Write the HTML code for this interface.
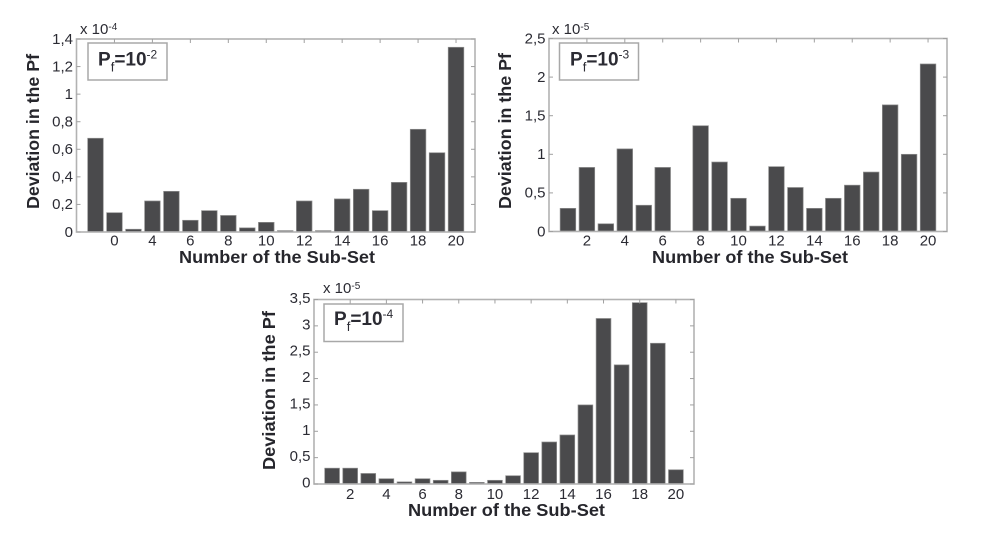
<!DOCTYPE html>
<html lang="en">
<head>
<meta charset="utf-8">
<title>Deviation in the Pf by Sub-Set</title>
<style>
  html, body { margin: 0; padding: 0; background: #fff; }
  svg { display: block; }
  text { font-family: "Liberation Sans", Arial, sans-serif; fill: #2b2b33; }
  .tick { font-size: 15px; }
  .title { font-size: 17.5px; font-weight: bold; fill: #26262c; }
  .legend { font-size: 19px; font-weight: bold; fill: #2b2b33; }
</style>
</head>
<body>
<svg id="figure" xmlns="http://www.w3.org/2000/svg" width="986" height="540" viewBox="0 0 986 540">
  <g id="chart-a"></g>
  <g id="chart-b"></g>
  <g id="chart-c"></g>

  <text class="title" x="179" y="263" textLength="196" lengthAdjust="spacingAndGlyphs">Number of the Sub-Set</text>
  <text class="title" x="652" y="263" textLength="196" lengthAdjust="spacingAndGlyphs">Number of the Sub-Set</text>
  <text class="title" x="408" y="516" textLength="197" lengthAdjust="spacingAndGlyphs">Number of the Sub-Set</text>

  <text class="title" transform="translate(39,209) rotate(-90)" textLength="155" lengthAdjust="spacingAndGlyphs">Deviation in the Pf</text>
  <text class="title" transform="translate(511,209) rotate(-90)" textLength="156" lengthAdjust="spacingAndGlyphs">Deviation in the Pf</text>
  <text class="title" transform="translate(275,470) rotate(-90)" textLength="159" lengthAdjust="spacingAndGlyphs">Deviation in the Pf</text>

  <text class="tick" x="80" y="34">x 10<tspan dy="-4" font-size="10">-4</tspan></text>
  <text class="tick" x="552" y="34">x 10<tspan dy="-4" font-size="10">-5</tspan></text>
  <text class="tick" x="323" y="293">x 10<tspan dy="-4" font-size="10">-5</tspan></text>

  <g>
    <rect x="88" y="43" width="79" height="37" fill="#fff" stroke="#a8a8a8" stroke-width="1.5"></rect>
    <text class="legend" x="98" y="65.5">P<tspan dy="6" font-size="13" font-weight="normal">f</tspan><tspan dy="-6">=10</tspan><tspan dy="-7" font-size="12" font-weight="normal">-2</tspan></text>
  </g>
  <g>
    <rect x="559.5" y="43" width="79" height="37" fill="#fff" stroke="#a8a8a8" stroke-width="1.5"></rect>
    <text class="legend" x="570" y="65.5">P<tspan dy="6" font-size="13" font-weight="normal">f</tspan><tspan dy="-6">=10</tspan><tspan dy="-7" font-size="12" font-weight="normal">-3</tspan></text>
  </g>
  <g>
    <rect x="324" y="304" width="79" height="37.5" fill="#fff" stroke="#a8a8a8" stroke-width="1.5"></rect>
    <text class="legend" x="334" y="325">P<tspan dy="6" font-size="13" font-weight="normal">f</tspan><tspan dy="-6">=10</tspan><tspan dy="-7" font-size="12" font-weight="normal">-4</tspan></text>
  </g>
</svg>

<script>
const subSets = [1,2,3,4,5,6,7,8,9,10,11,12,13,14,15,16,17,18,19,20];
const xTickValues = [2,4,6,8,10,12,14,16,18,20];

const valuesA = [0.68,0.14,0.02,0.225,0.295,0.085,0.155,0.12,0.03,0.07,0.01,0.225,0.01,0.24,0.31,0.155,0.36,0.745,0.575,1.34];
const xLabelsA = ['0','4','6','8','10','12','14','16','18','20'];
const yTickValuesA = [0,0.2,0.4,0.6,0.8,1,1.2,1.4];
const yLabelsA = ['0','0,2','0,4','0,6','0,8','1','1,2','1,4'];

const valuesB = [0.30,0.83,0.10,1.07,0.34,0.83,0,1.37,0.90,0.43,0.07,0.84,0.57,0.30,0.43,0.60,0.77,1.64,1.00,2.17];
const xLabelsB = ['2','4','6','8','10','12','14','16','18','20'];
const yTickValuesB = [0,0.5,1,1.5,2,2.5];
const yLabelsB = ['0','0,5','1','1,5','2','2,5'];

const valuesC = [0.30,0.30,0.20,0.10,0.04,0.10,0.07,0.23,0.03,0.07,0.157,0.594,0.797,0.93,1.50,3.14,2.26,3.44,2.67,0.27];
const xLabelsC = ['2','4','6','8','10','12','14','16','18','20'];
const yTickValuesC = [0,0.5,1,1.5,2,2.5,3,3.5];
const yLabelsC = ['0','0,5','1','1,5','2','2,5','3','3,5'];

const SVG_NS = 'http://www.w3.org/2000/svg';

function make(parent, tag, attrs) {
  const el = document.createElementNS(SVG_NS, tag);
  for (const k in attrs) el.setAttribute(k, attrs[k]);
  parent.appendChild(el);
  return el;
}

function drawChart(parentId, frame, categories, values, xTicks, xLabels, yTicks, yLabels) {
  const g = document.getElementById(parentId);
  const yMax = yTicks[yTicks.length - 1];
  const xScale = v => frame.left + (v / 21) * (frame.right - frame.left);
  const yScale = v => frame.bottom - (v / yMax) * (frame.bottom - frame.top);

  categories.forEach((cat, i) => {
    const y = yScale(values[i]);
    const bar = make(g, 'rect', {
      x: xScale(cat) - frame.barWidth / 2,
      y: y,
      width: frame.barWidth,
      height: Math.max(0, frame.bottom - y),
      fill: '#4a4a4c',
      stroke: '#8f8f8f',
      'stroke-width': 0.7
    });
    
    
  });

  const box = make(g, 'rect', {
    x: frame.left,
    y: frame.top,
    width: frame.right - frame.left,
    height: frame.bottom - frame.top,
    fill: 'none',
    stroke: '#b2b2b2',
    'stroke-width': 1.6
  });
  
  

  xTicks.forEach((t, i) => {
    const x = xScale(t);
    const mark = make(g, 'line', { x1: x, x2: x, y1: frame.top, y2: frame.top + 4, stroke: '#a0a0a0', 'stroke-width': 1 });
    
    
    const label = make(g, 'text', { x: x, y: frame.bottom + frame.xLabelGap, 'text-anchor': 'middle', class: 'tick' });
    label.textContent = xLabels[i];
    
    
  });

  yTicks.forEach((t, i) => {
    const y = yScale(t);
    const left = make(g, 'line', { x1: frame.left, x2: frame.left + 4, y1: y, y2: y, stroke: '#a0a0a0', 'stroke-width': 1 });
    
    
    const right = make(g, 'line', { x1: frame.right - 4, x2: frame.right, y1: y, y2: y, stroke: '#a0a0a0', 'stroke-width': 1 });
    
    
    const label = make(g, 'text', { x: frame.left - 3.5, y: y + frame.yLabelDy, 'text-anchor': 'end', class: 'tick' });
    label.textContent = yLabels[i];
    
    
  });
}

drawChart('chart-a', { left: 76.5, right: 475, top: 39, bottom: 232, barWidth: 15.6, xLabelGap: 13.5, yLabelDy: 4.8 }, subSets, valuesA, xTickValues, xLabelsA, yTickValuesA, yLabelsA);
drawChart('chart-b', { left: 549, right: 947, top: 38.5, bottom: 231.5, barWidth: 15.6, xLabelGap: 14, yLabelDy: 4.8 }, subSets, valuesB, xTickValues, xLabelsB, yTickValuesB, yLabelsB);
drawChart('chart-c', { left: 314, right: 694, top: 299.5, bottom: 484, barWidth: 14.8, xLabelGap: 15, yLabelDy: 3.5 }, subSets, valuesC, xTickValues, xLabelsC, yTickValuesC, yLabelsC);
</script>
</body>
</html>
